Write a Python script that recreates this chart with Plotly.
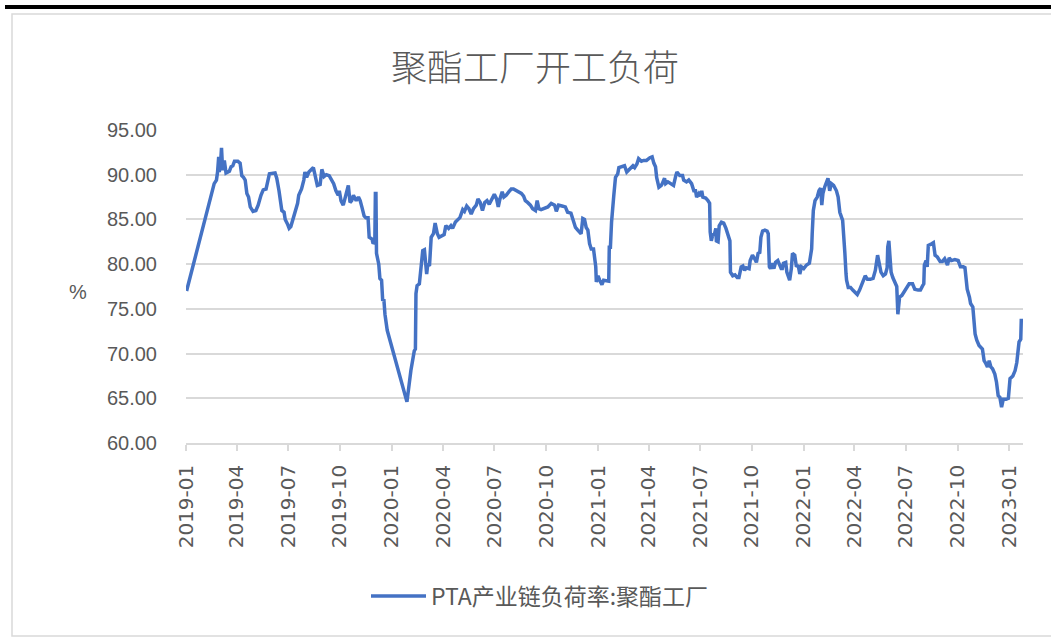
import plotly.graph_objects as go

dates = [
"2019-01-02","2019-02-17","2019-02-20","2019-02-24","2019-02-26","2019-02-28","2019-03-01","2019-03-03","2019-03-05","2019-03-07",
"2019-03-10","2019-03-13","2019-03-19","2019-03-22","2019-03-25","2019-03-28","2019-04-03","2019-04-07","2019-04-10","2019-04-13",
"2019-04-16","2019-04-19","2019-04-22","2019-04-25","2019-04-30","2019-05-05","2019-05-09","2019-05-14","2019-05-18","2019-05-23",
"2019-05-25","2019-05-29","2019-06-08","2019-06-11","2019-06-15","2019-06-18","2019-06-20","2019-06-24","2019-06-26","2019-06-30",
"2019-07-03","2019-07-06","2019-07-10","2019-07-15","2019-07-18","2019-07-20","2019-07-25","2019-07-29","2019-07-31","2019-08-03",
"2019-08-07","2019-08-15","2019-08-18","2019-08-22","2019-08-27","2019-08-30","2019-09-03","2019-09-07","2019-09-12","2019-09-16",
"2019-09-20","2019-09-24","2019-09-28","2019-09-30","2019-10-03","2019-10-07","2019-10-11","2019-10-14","2019-10-16","2019-10-19",
"2019-10-22","2019-10-25","2019-10-30","2019-11-03","2019-11-06","2019-11-09","2019-11-13","2019-11-16","2019-11-20","2019-11-22",
"2019-11-27","2019-11-29","2019-12-02","2019-12-03","2019-12-04","2019-12-05","2019-12-09","2019-12-11","2019-12-14","2019-12-16",
"2019-12-18","2019-12-20","2019-12-24","2020-01-28","2020-02-04","2020-02-10","2020-02-12","2020-02-13","2020-02-15","2020-02-19",
"2020-02-22","2020-02-25","2020-02-28","2020-03-01","2020-03-03","2020-03-05","2020-03-08","2020-03-11","2020-03-15","2020-03-18",
"2020-03-22","2020-03-25","2020-03-30","2020-04-03","2020-04-06","2020-04-11","2020-04-15","2020-04-18","2020-04-23","2020-04-27",
"2020-05-01","2020-05-06","2020-05-09","2020-05-13","2020-05-17","2020-05-21","2020-05-25","2020-05-30","2020-06-02","2020-06-06",
"2020-06-10","2020-06-14","2020-06-18","2020-06-22","2020-06-27","2020-07-01","2020-07-05","2020-07-08","2020-07-11","2020-07-15",
"2020-07-18","2020-07-22","2020-07-27","2020-07-31","2020-08-04","2020-08-09","2020-08-13","2020-08-18","2020-08-22","2020-08-25",
"2020-08-29","2020-09-03","2020-09-07","2020-09-12","2020-09-15","2020-09-18","2020-09-22","2020-09-28","2020-10-04","2020-10-10",
"2020-10-16","2020-10-19","2020-10-23","2020-10-29","2020-11-04","2020-11-08","2020-11-14","2020-11-17","2020-11-22","2020-11-26",
"2020-11-29","2020-12-02","2020-12-05","2020-12-08","2020-12-11","2020-12-14","2020-12-17","2020-12-20","2020-12-24","2020-12-26",
"2020-12-28","2020-12-29","2021-01-01","2021-01-04","2021-01-08","2021-01-11","2021-01-16","2021-01-20","2021-01-21","2021-01-23",
"2021-01-25","2021-01-27","2021-01-29","2021-02-01","2021-02-05","2021-02-07","2021-02-11","2021-02-17","2021-02-21","2021-02-26",
"2021-03-01","2021-03-04","2021-03-07","2021-03-11","2021-03-14","2021-03-19","2021-03-23","2021-03-28","2021-04-03","2021-04-07",
"2021-04-10","2021-04-13","2021-04-15","2021-04-19","2021-04-23","2021-04-25","2021-04-29","2021-05-01","2021-05-05","2021-05-09",
"2021-05-15","2021-05-19","2021-05-21","2021-05-26","2021-05-31","2021-06-02","2021-06-07","2021-06-11","2021-06-16","2021-06-20",
"2021-06-23","2021-06-25","2021-06-29","2021-07-02","2021-07-04","2021-07-06","2021-07-11","2021-07-15","2021-07-18","2021-07-19",
"2021-07-21","2021-07-24","2021-07-26","2021-07-29","2021-07-30","2021-08-02","2021-08-04","2021-08-08","2021-08-12","2021-08-16",
"2021-08-20","2021-08-23","2021-08-24","2021-08-28","2021-09-01","2021-09-05","2021-09-08","2021-09-12","2021-09-15","2021-09-18",
"2021-09-21","2021-09-26","2021-09-28","2021-10-02","2021-10-06","2021-10-09","2021-10-12","2021-10-15","2021-10-17","2021-10-20",
"2021-10-24","2021-10-28","2021-10-30","2021-11-01","2021-11-03","2021-11-06","2021-11-09","2021-11-12","2021-11-16","2021-11-19",
"2021-11-22","2021-11-24","2021-11-26","2021-11-30","2021-12-02","2021-12-07","2021-12-10","2021-12-12","2021-12-16","2021-12-19",
"2021-12-22","2021-12-25","2021-12-28","2022-01-01","2022-01-06","2022-01-11","2022-01-15","2022-01-16","2022-01-18","2022-01-21",
"2022-01-25","2022-01-28","2022-01-31","2022-02-02","2022-02-04","2022-02-07","2022-02-10","2022-02-13","2022-02-16","2022-02-19",
"2022-02-23","2022-02-28","2022-03-03","2022-03-06","2022-03-11","2022-03-13","2022-03-15","2022-03-17","2022-03-18","2022-03-21",
"2022-03-25","2022-03-29","2022-04-02","2022-04-06","2022-04-10","2022-04-14","2022-04-17","2022-04-20","2022-04-24","2022-04-29",
"2022-05-04","2022-05-08","2022-05-12","2022-05-15","2022-05-18","2022-05-22","2022-05-26","2022-05-29","2022-05-30","2022-06-01",
"2022-06-02","2022-06-05","2022-06-08","2022-06-12","2022-06-15","2022-06-17","2022-06-20","2022-06-24","2022-06-28","2022-07-02",
"2022-07-07","2022-07-13","2022-07-17","2022-07-23","2022-07-27","2022-07-31","2022-08-02","2022-08-03","2022-08-06","2022-08-08",
"2022-08-10","2022-08-14","2022-08-19","2022-08-22","2022-08-26","2022-08-31","2022-09-04","2022-09-08","2022-09-13","2022-09-16",
"2022-09-20","2022-09-26","2022-10-02","2022-10-06","2022-10-11","2022-10-14","2022-10-16","2022-10-18","2022-10-22","2022-10-24",
"2022-10-28","2022-10-30","2022-11-01","2022-11-04","2022-11-08","2022-11-14","2022-11-17","2022-11-20","2022-11-23","2022-11-26",
"2022-11-29","2022-12-02","2022-12-06","2022-12-09","2022-12-12","2022-12-15","2022-12-18","2022-12-21","2022-12-26","2022-12-30",
"2023-01-02","2023-01-07","2023-01-11","2023-01-14","2023-01-16","2023-01-18","2023-01-21","2023-01-22",
]

load_rate = [
77.0,88.6,89.0,89.4,90.3,92.0,90.3,91.0,93.0,90.5,
91.6,90.2,90.4,90.9,91.0,91.5,91.5,91.3,89.9,89.7,
89.4,87.9,87.5,86.4,85.9,86.0,86.6,87.7,88.3,88.4,
89.0,90.1,90.2,89.6,88.2,86.9,86.0,85.8,85.0,84.5,
84.0,84.2,85.1,86.0,86.8,87.7,88.4,89.4,90.3,89.7,
90.3,90.8,90.1,88.8,88.9,90.6,89.8,90.0,89.9,89.4,
89.0,88.2,87.7,88.2,87.1,86.6,87.7,88.4,88.8,86.9,
87.1,87.7,87.1,87.5,87.1,86.4,85.4,85.2,85.2,83.0,
82.8,82.3,82.5,87.9,87.9,81.2,80.0,78.4,78.2,75.9,
76.1,74.4,72.6,64.6,68.1,70.3,70.5,76.7,77.6,77.8,
79.3,81.5,81.6,80.2,78.9,80.0,79.8,83.0,83.4,84.6,
83.4,83.0,83.2,83.3,84.3,84.0,84.3,84.0,84.7,85.0,
85.2,86.1,85.9,86.5,86.2,85.6,86.2,86.6,87.3,86.9,
86.0,86.9,87.1,86.7,87.4,87.8,87.3,86.4,87.3,88.1,
87.5,87.7,88.1,88.4,88.4,88.2,88.1,87.9,87.6,87.1,
86.9,86.6,86.2,86.0,87.1,86.2,86.1,86.2,86.4,86.8,
86.6,85.9,86.6,86.5,86.4,85.8,85.7,85.1,84.1,83.8,
83.6,83.4,85.1,85.0,84.1,83.8,82.3,81.7,81.7,80.8,
79.7,78.0,78.7,78.2,77.7,78.2,78.1,78.1,81.9,81.9,
84.7,86.6,87.7,89.7,90.1,90.8,90.9,91.0,90.3,90.6,
90.7,91.0,90.8,91.2,91.8,91.5,91.6,91.6,91.9,92.0,
91.3,90.9,89.7,88.6,88.8,89.0,89.6,89.0,89.2,89.0,
88.8,89.9,90.3,89.9,89.9,89.4,89.2,89.4,89.0,88.2,
88.2,87.5,87.9,87.6,88.2,87.5,87.4,87.1,86.8,83.6,
82.6,83.4,83.2,84.0,82.6,82.5,84.3,84.7,84.6,84.0,
83.2,82.6,79.1,78.7,78.8,78.5,78.5,79.7,79.8,79.3,
79.6,79.5,80.4,81.0,80.6,80.2,81.2,81.3,83.0,83.7,
83.8,83.7,83.4,79.7,79.5,80.1,79.5,80.2,80.4,79.8,
79.5,79.5,80.1,80.2,79.1,78.2,79.5,81.2,81.0,79.7,
79.9,78.9,79.7,79.5,79.9,80.1,81.7,83.4,86.0,87.1,
87.5,88.2,88.5,86.6,87.9,88.6,89.2,89.6,88.2,89.0,
88.8,88.2,87.5,85.8,84.9,83.4,81.2,78.9,78.2,77.4,
77.4,77.1,76.8,76.6,77.1,77.7,78.2,78.7,78.3,78.3,
78.4,79.3,81.0,79.9,79.1,78.7,78.9,79.6,81.9,82.6,
81.5,79.1,78.5,78.0,77.5,74.4,76.3,76.5,76.9,77.4,
77.8,77.8,77.2,77.1,77.1,77.6,77.8,79.9,80.4,79.7,
82.1,82.2,82.4,81.0,80.8,80.3,80.3,80.6,79.9,80.7,
80.4,80.5,80.4,79.7,79.7,79.6,78.5,77.2,76.3,75.6,
75.2,74.1,72.2,71.5,70.9,70.5,69.2,68.9,68.5,69.2,
68.5,68.3,67.7,66.8,65.3,65.1,64.0,64.9,64.9,65.0,
67.2,67.5,68.1,69.0,70.7,71.3,71.6,73.9,
]

series_name = "PTA产业链负荷率:聚酯工厂"
chart_title = "聚酯工厂开工负荷"
y_unit = "%"

W, H = 1051, 638
L, R, T, B = 186, 1023, 130, 443  # plot-area pixel box


def px(x):
    return (x - L) / (R - L)


def py(y):
    return (B - y) / (B - T)


fig = go.Figure()
fig.add_trace(go.Scatter(
    x=dates, y=load_rate, mode="lines", name=series_name,
    line=dict(color="#4472C4", width=3.5),
))

grey = "#595959"
fig.update_layout(
    width=W, height=H,
    margin=dict(l=L, r=W - R, t=T, b=H - B),
    paper_bgcolor="white", plot_bgcolor="white",
    title=dict(text=chart_title, x=535 / W, xref="container", xanchor="center",
               y=1 - 68 / H, yref="container", yanchor="middle",
               font=dict(family="Noto Sans CJK SC", size=36, color=grey, weight=300)),
    showlegend=True,
    legend=dict(orientation="h", x=px(366), xanchor="left", y=py(596), yanchor="middle",
                font=dict(family="Noto Sans CJK SC", size=23, color=grey),
                itemwidth=55, bgcolor="rgba(0,0,0,0)"),
    xaxis=dict(
        type="date", range=["2019-01-01", "2023-01-25"],
        tick0="2019-01-01", dtick="M3", tickformat="%Y-%m", tickangle=-90,
        ticks="outside", ticklen=6, tickwidth=1.5, tickcolor="#d9d9d9",
        showline=True, linecolor="#d9d9d9", linewidth=1.5, showgrid=False,
        tickfont=dict(family="DejaVu Sans", size=20, color=grey),
        ticklabelstandoff=6, zeroline=False,
    ),
    yaxis=dict(
        range=[60, 95], dtick=5, tick0=60, tickformat=".2f",
        showgrid=True, gridcolor="#d9d9d9", gridwidth=1.5,
        showline=False, zeroline=False, ticks="", ticklabelstandoff=28,
        tickfont=dict(family="Liberation Sans", size=20, color=grey),
    ),
    annotations=[dict(text=y_unit, xref="paper", yref="paper", x=px(67), y=py(292),
                      showarrow=False, font=dict(family="Liberation Sans", size=20, color=grey))],
    shapes=[
        dict(type="line", xref="paper", yref="paper", x0=px(5), x1=px(1060), y0=py(7), y1=py(7),
             line=dict(color="black", width=4)),
        dict(type="rect", xref="paper", yref="paper", x0=px(12), x1=px(1070), y0=py(636), y1=py(14),
             line=dict(color="#d9d9d9", width=1.5), layer="below"),
    ],
)

fig.write_html("out.html", config={"displayModeBar": False},
               post_script="document.body.style.margin='0';")
